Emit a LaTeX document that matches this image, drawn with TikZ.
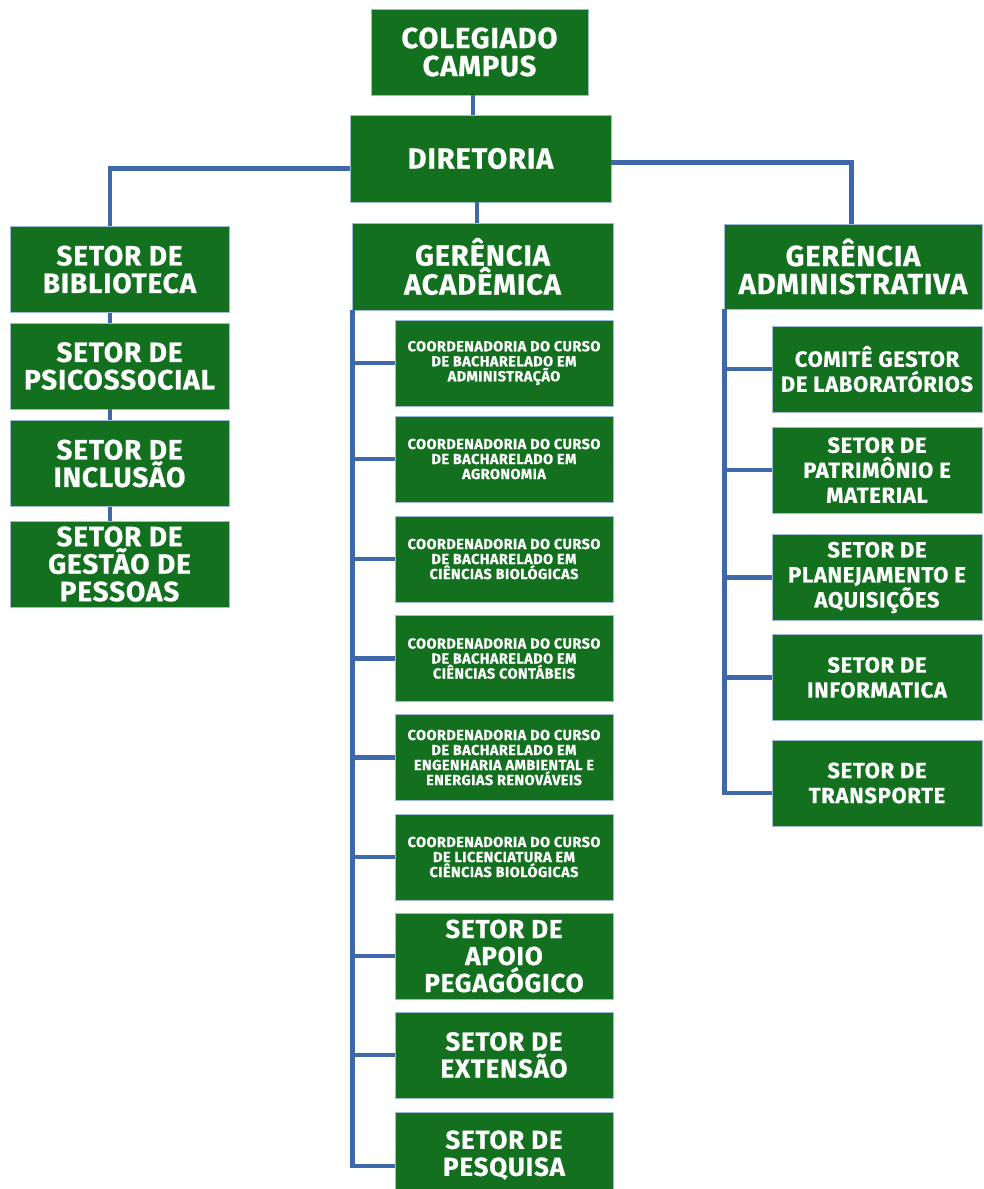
\documentclass[tikz,border=0pt]{standalone}
\usepackage{fontspec}
\setmainfont{Fira Sans}[LetterSpace=3, BoldFeatures={FakeBold=0.6}]
\definecolor{boxgreen}{RGB}{18,112,31}
\definecolor{boxedge}{RGB}{160,185,215}
\definecolor{linkblue}{RGB}{62,104,170}
\begin{document}
\begin{tikzpicture}[x=1pt,y=-1pt,
  bx/.style={rectangle, fill=boxgreen, draw=boxedge, line width=0.8pt, text=white,
    inner sep=0pt, align=center, font=\bfseries},
  big/.style={bx, font=\bfseries\fontsize{29}{28}\selectfont},
  mid/.style={bx, font=\bfseries\fontsize{26}{27}\selectfont, minimum width=218, minimum height=86},
  sml/.style={bx, font=\bfseries\fontsize{14.5}{15}\selectfont, minimum width=218, minimum height=86},
  rgt/.style={bx, font=\bfseries\fontsize{22}{25}\selectfont, minimum width=210, minimum height=86},
  lft/.style={bx, font=\bfseries\fontsize{28}{27.5}\selectfont, minimum width=219, minimum height=86},
  link/.style={draw=linkblue, line width=4.3pt}]
\useasboundingbox (0,0) rectangle (983,1189);

% top
\node[big, minimum width=217, minimum height=86] (col) at (479.5,52) {COLEGIADO\\CAMPUS};
\node[big, minimum width=261, minimum height=87] (dir) at (480.5,158.5) {DIRETORIA};
\node[big, minimum width=261, minimum height=87] (ga) at (482.5,266.5) {GERÊNCIA\\ACADÊMICA};
\node[big, minimum width=258, minimum height=85] (gad) at (853,266.5) {GERÊNCIA\\ADMINISTRATIVA};

% left column
\node[lft] (l1) at (119.5,269.5) {SETOR DE\\BIBLIOTECA};
\node[lft] (l2) at (119.5,366) {SETOR DE\\PSICOSSOCIAL};
\node[lft] (l3) at (119.5,463.5) {SETOR DE\\INCLUSÃO};
\node[lft] (l4) at (119.5,564) {SETOR DE\\GESTÃO DE\\PESSOAS};

% middle column
\node[sml] (m1) at (504,363) {COORDENADORIA DO CURSO\\DE BACHARELADO EM\\ADMINISTRAÇÃO};
\node[sml] (m2) at (504,459) {COORDENADORIA DO CURSO\\DE BACHARELADO EM\\AGRONOMIA};
\node[sml] (m3) at (504,559) {COORDENADORIA DO CURSO\\DE BACHARELADO EM\\CIÊNCIAS BIOLÓGICAS};
\node[sml] (m4) at (504,658.5) {COORDENADORIA DO CURSO\\DE BACHARELADO EM\\CIÊNCIAS CONTÁBEIS};
\node[sml] (m5) at (504,757.5) {COORDENADORIA DO CURSO\\DE BACHARELADO EM\\ENGENHARIA AMBIENTAL E\\ENERGIAS RENOVÁVEIS};
\node[sml] (m6) at (504,857) {COORDENADORIA DO CURSO\\DE LICENCIATURA EM\\CIÊNCIAS BIOLÓGICAS};
\node[mid] (m7) at (504,956) {SETOR DE\\APOIO\\PEGAGÓGICO};
\node[mid] (m8) at (504,1055) {SETOR DE\\EXTENSÃO};
\node[mid] (m9) at (504,1155) {SETOR DE\\PESQUISA};

% right column
\node[rgt] (r1) at (877,369) {COMITÊ GESTOR\\DE LABORATÓRIOS};
\node[rgt] (r2) at (877,470) {SETOR DE\\PATRIMÔNIO E\\MATERIAL};
\node[rgt] (r3) at (877,577.5) {SETOR DE\\PLANEJAMENTO E\\AQUISIÇÕES};
\node[rgt] (r4) at (877,677.5) {SETOR DE\\INFORMATICA};
\node[rgt] (r5) at (877,783) {SETOR DE\\TRANSPORTE};

% connectors top
\draw[link] ([xshift=-6.5pt]col.south) -- ([xshift=-7.5pt]dir.north);
\draw[link] ([xshift=-3.5pt]dir.south) -- ([xshift=-5.5pt]ga.north);
\draw[link] ([yshift=-10pt]dir.west) -| ([xshift=-9.5pt]l1.north);
\draw[link] ([yshift=-4pt]dir.east) -| ([xshift=-1.5pt]gad.north);

% left chain
\draw[link] ([xshift=-9.5pt]l1.south) -- ([xshift=-9.5pt]l2.north);
\draw[link] ([xshift=-9.5pt]l2.south) -- ([xshift=-9.5pt]l3.north);
\draw[link] ([xshift=-9.5pt]l3.south) -- ([xshift=-9.5pt]l4.north);

% middle bar
\coordinate (mb) at ([xshift=1pt]ga.south west);
\draw[link] (mb) |- ([yshift=-11pt]m9.west);
\foreach \n in {m1,m2,m3,m4,m5,m6,m7,m8}{
  \draw[link] (\n.west) -- (\n.west -| mb);
}

% right bar
\coordinate (rb) at ([xshift=1pt]gad.south west);
\draw[link] (rb) |- ([yshift=-10pt]r5.west);
\foreach \n in {r1,r2,r3,r4}{
  \draw[link] (\n.west) -- (\n.west -| rb);
}
\end{tikzpicture}
\end{document}
